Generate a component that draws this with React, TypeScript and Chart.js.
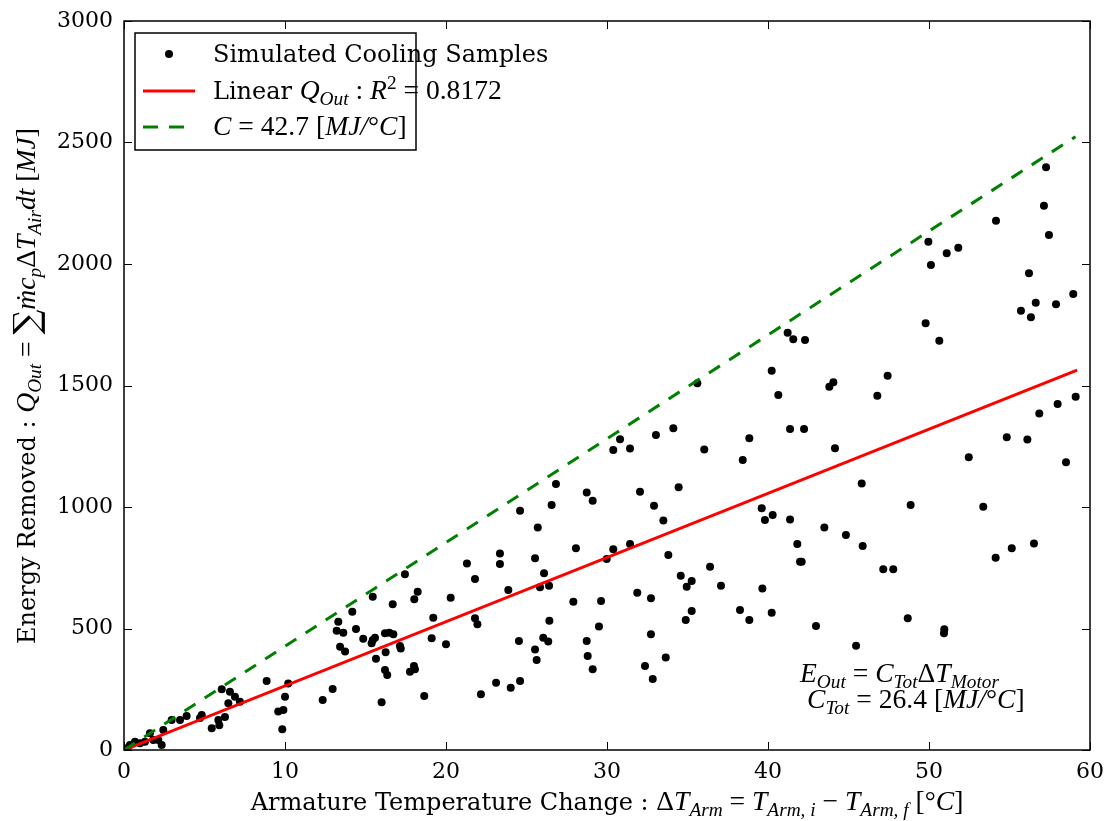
import React, { useEffect, useRef } from "react";
import { Chart, registerables } from "chart.js";
Chart.register(...registerables);

// ---------- data ----------
const sampleX = [
  0.17, 0.37, 0.68, 0.99, 1.3, 1.61, 1.82, 2.13, 2.34, 2.44, 2.96, 3.48, 3.89, 4.83, 4.72, 5.45, 5.92, 5.86, 6.27, 6.07,
  6.58, 6.89, 6.48, 7.2, 8.86, 10.2, 10.0, 9.9, 9.58, 9.83,
  21.3, 17.45, 18.24, 18.03, 20.29, 15.45, 16.69, 14.18, 13.31, 13.21, 13.62, 14.41, 14.86, 15.45, 15.59, 15.38, 16.21,
  16.48, 16.73, 17.14, 17.19, 16.25, 15.65, 13.42, 13.73, 19.21, 19.11, 20.0, 16.21, 16.35, 17.76, 18.01, 18.07, 12.96,
  12.34, 16.0, 18.65,
  35.61, 40.64, 30.81, 30.39, 31.43, 33.04, 34.12, 36.04, 38.84, 38.43, 26.83, 26.56, 24.6, 25.7, 28.74, 29.11, 32.05,
  32.92, 33.5, 34.45, 39.61, 39.81, 40.29, 28.07, 30.39, 29.98, 31.43, 33.81, 36.4, 34.58, 35.26, 34.95, 37.08, 39.65,
  23.35, 23.35, 21.8, 25.53, 26.09, 25.84, 26.4, 23.87, 27.91, 29.63, 31.88, 32.73, 21.8, 21.95, 26.42, 29.5, 35.26,
  34.89, 38.26, 38.84, 40.23, 24.53, 25.53, 25.63, 26.04, 26.35, 28.74, 28.8, 29.11, 32.73, 32.36, 32.84, 33.65, 22.17,
  23.11, 24.02, 24.6,
  57.27, 57.14, 57.45, 54.16, 49.96, 50.12, 51.1, 51.82, 56.21, 55.71, 56.33, 56.63, 57.89, 58.96, 49.79, 50.64, 41.22,
  41.57, 42.3, 40.23, 46.79, 47.43, 43.81, 44.06, 41.37, 42.24, 44.16, 52.47, 54.83, 56.11, 56.85, 57.99, 59.11, 58.51,
  45.82, 41.37, 43.5, 44.84, 45.88, 41.82, 41.99, 42.09, 47.16, 47.78, 48.86, 53.37, 54.14, 55.14, 56.52, 42.98, 45.47,
  48.68, 50.95, 50.93,
];
const sampleY = [
  7, 21, 34, 28, 34, 69, 41, 41, 21, 82, 123, 123, 140, 144, 132, 89, 102, 123, 136, 250,
  240, 219, 192, 199, 284, 274, 219, 165, 158, 85,
  768, 723, 651, 620, 627, 631, 600, 569, 528, 491, 483, 498, 458, 453, 462, 439, 480,
  483, 476, 428, 418, 402, 376, 425, 405, 544, 460, 435, 329, 309, 322, 346, 332, 251,
  206, 196, 222,
  1509, 1461, 1279, 1235, 1241, 1296, 1324, 1237, 1283, 1193, 1095, 1008, 985, 916, 1060, 1026, 1063,
  1005, 944, 1081, 995, 947, 967, 830, 826, 786, 848, 802, 754, 717, 695, 672, 676, 665,
  809, 765, 704, 789, 727, 670, 676, 658, 610, 613, 647, 624, 542, 517, 532, 508, 572,
  535, 576, 535, 565, 449, 414, 370, 462, 446, 449, 387, 332, 476, 346, 292, 381, 229,
  277, 256, 284,
  2398, 2240, 2119, 2178, 2092, 1996, 2044, 2067, 1962, 1808, 1781, 1841, 1834, 1877, 1756, 1684, 1717,
  1690, 1687, 1561, 1458, 1540, 1495, 1513, 1321, 1321, 1242, 1205, 1287, 1278, 1385, 1424, 1454, 1184,
  1097, 949, 916, 885, 840, 848, 775, 775, 744, 744, 1008, 1001, 791, 830, 850, 510, 429,
  542, 497, 480,
];
const linearX = [0, 59.2];
const linearY = [0, 1563];
const capX = [0, 59.1];
const capY = [0, 2524];
const xTickValues = [0, 10, 20, 30, 40, 50, 60];
const yTickValues = [0, 500, 1000, 1500, 2000, 2500, 3000];

// ---------- rich text ----------
type Seg = { t: string; k?: "r" | "i" | "m"; p?: "sub" | "sup"; sc?: number; dy?: number };
const TEXT_FONT = '"DejaVu Serif"';
const MATH_FONT = '"Liberation Serif"';
const MATH_SCALE = 1.15;

function segFont(s: Seg, size: number) {
  let px = size * (s.sc ?? 1) * (s.p ? 0.7 : 1);
  const k = s.k ?? "r";
  if (k === "r") return `${px}px ${TEXT_FONT}`;
  px *= MATH_SCALE;
  if (k === "i") return `italic ${px}px ${MATH_FONT}`;
  return `${px}px ${MATH_FONT}`;
}
function richWidth(ctx: CanvasRenderingContext2D, segs: Seg[], size: number) {
  let w = 0;
  for (const s of segs) {
    ctx.font = segFont(s, size);
    w += ctx.measureText(s.t).width;
  }
  return w;
}
function drawRich(ctx: CanvasRenderingContext2D, segs: Seg[], x: number, y: number, size: number, align: "left" | "center" = "left") {
  let cx = x;
  if (align === "center") cx = x - richWidth(ctx, segs, size) / 2;
  ctx.textBaseline = "alphabetic";
  ctx.textAlign = "left";
  for (const s of segs) {
    ctx.font = segFont(s, size);
    let yy = y + (s.dy ?? 0) * size;
    if (s.p === "sub") yy += 0.25 * size;
    if (s.p === "sup") yy -= 0.4 * size;
    ctx.fillText(s.t, cx, yy);
    cx += ctx.measureText(s.t).width;
  }
}

const legendRow1: Seg[] = [{ t: "Simulated Cooling Samples" }];
const legendRow2: Seg[] = [
  { t: "Linear " }, { t: "Q", k: "i" }, { t: "Out", k: "i", p: "sub" }, { t: " : ", k: "m" },
  { t: "R", k: "i" }, { t: "2", k: "m", p: "sup" }, { t: " = 0.8172", k: "m" },
];
const legendRow3: Seg[] = [
  { t: "C", k: "i" }, { t: " = 42.7 [", k: "m" }, { t: "MJ/", k: "i" }, { t: "°", k: "m" }, { t: "C", k: "i" }, { t: "]", k: "m" },
];
const annot1: Seg[] = [
  { t: "E", k: "i" }, { t: "Out", k: "i", p: "sub" }, { t: " = ", k: "m" }, { t: "C", k: "i" }, { t: "Tot", k: "i", p: "sub" },
  { t: "Δ", k: "m" }, { t: "T", k: "i" }, { t: "Motor", k: "i", p: "sub" },
];
const annot2: Seg[] = [
  { t: "C", k: "i" }, { t: "Tot", k: "i", p: "sub" }, { t: " = 26.4 [", k: "m" }, { t: "MJ/", k: "i" }, { t: "°", k: "m" },
  { t: "C", k: "i" }, { t: "]", k: "m" },
];
const xTitle: Seg[] = [
  { t: "Armature Temperature Change : " }, { t: "Δ", k: "m" }, { t: "T", k: "i" }, { t: "Arm", k: "i", p: "sub" },
  { t: " = ", k: "m" }, { t: "T", k: "i" }, { t: "Arm, i", k: "i", p: "sub" }, { t: " − ", k: "m" }, { t: "T", k: "i" },
  { t: "Arm, f", k: "i", p: "sub" }, { t: " [°", k: "m" }, { t: "C", k: "i" }, { t: "]", k: "m" },
];
const yTitle: Seg[] = [
  { t: "Energy Removed : " }, { t: "Q", k: "i" }, { t: "Out", k: "i", p: "sub" }, { t: " = ", k: "m" },
  { t: "∑", k: "r", sc: 1.45, dy: 0.12 }, { t: "ṁc", k: "i" }, { t: "p", k: "i", p: "sub" }, { t: "Δ", k: "m" },
  { t: "T", k: "i" }, { t: "Air", k: "i", p: "sub" }, { t: "dt", k: "i" }, { t: " [", k: "m" }, { t: "MJ", k: "i" },
  { t: "]", k: "m" },
];

const overlay = {
  id: "overlay",
  afterDraw(chart: any) {
    const ctx: CanvasRenderingContext2D = chart.ctx;
    const a = chart.chartArea;
    const xs = chart.scales.x;
    const ys = chart.scales.y;
    ctx.save();
    ctx.fillStyle = "#000";
    ctx.strokeStyle = "#000";
    // ticks (inward, all sides)
    ctx.lineWidth = 1;
    ctx.beginPath();
    for (const v of xTickValues) {
      const px = Math.round(xs.getPixelForValue(v)) + 0.5;
      ctx.moveTo(px, a.bottom); ctx.lineTo(px, a.bottom - 8);
      ctx.moveTo(px, a.top); ctx.lineTo(px, a.top + 8);
    }
    for (const v of yTickValues) {
      const py = Math.round(ys.getPixelForValue(v)) + 0.5;
      ctx.moveTo(a.left, py); ctx.lineTo(a.left + 8, py);
      ctx.moveTo(a.right, py); ctx.lineTo(a.right - 8, py);
    }
    ctx.stroke();
    // frame
    ctx.lineWidth = 1.5;
    ctx.strokeRect(a.left, a.top, a.right - a.left, a.bottom - a.top);

    // legend
    ctx.fillStyle = "#fff";
    ctx.fillRect(135, 33, 281, 117);
    ctx.lineWidth = 1.5;
    ctx.strokeStyle = "#000";
    ctx.strokeRect(135, 33, 281, 117);
    ctx.fillStyle = "#000";
    ctx.beginPath();
    ctx.arc(169, 54, 4, 0, Math.PI * 2);
    ctx.fill();
    ctx.lineWidth = 3;
    ctx.strokeStyle = "#ff0000";
    ctx.beginPath(); ctx.moveTo(143, 91); ctx.lineTo(195, 91); ctx.stroke();
    ctx.strokeStyle = "#008000";
    ctx.setLineDash([15, 11]);
    ctx.beginPath(); ctx.moveTo(143, 127); ctx.lineTo(195, 127); ctx.stroke();
    ctx.setLineDash([]);
    ctx.fillStyle = "#000";
    drawRich(ctx, legendRow1, 213, 62, 24);
    drawRich(ctx, legendRow2, 213, 99, 24);
    drawRich(ctx, legendRow3, 213, 135, 24);

    // annotation
    drawRich(ctx, annot1, 800, 682, 24);
    drawRich(ctx, annot2, 807, 708, 24);

    // axis titles
    drawRich(ctx, xTitle, (a.left + a.right) / 2, 810, 24, "center");
    ctx.save();
    ctx.translate(35, 386);
    ctx.rotate(-Math.PI / 2);
    drawRich(ctx, yTitle, 0, 0, 24, "center");
    ctx.restore();
    ctx.restore();
  },
};

export default function App() {
  const ref = useRef<HTMLCanvasElement>(null);
  useEffect(() => {
    if (!ref.current) return;
    const tickFont = { family: TEXT_FONT, size: 22 };
    const chart = new Chart(ref.current, {
      type: "scatter",
      data: {
        datasets: [
          {
            label: "Simulated Cooling Samples",
            data: sampleX.map((x, i) => ({ x, y: sampleY[i] })),
            backgroundColor: "#000",
            borderWidth: 0,
            pointRadius: 4,
            order: 3,
          },
          {
            label: "Linear",
            data: linearX.map((x, i) => ({ x, y: linearY[i] })),
            showLine: true,
            borderColor: "#ff0000",
            borderWidth: 3,
            pointRadius: 0,
            order: 2,
          },
          {
            label: "C",
            data: capX.map((x, i) => ({ x, y: capY[i] })),
            showLine: true,
            borderColor: "#008000",
            borderWidth: 3,
            borderDash: [13, 11],
            pointRadius: 0,
            order: 1,
          },
        ] as any,
      },
      options: {
        animation: false,
        responsive: false,
        events: [],
        layout: { padding: { left: 0, right: 15, top: 21, bottom: 0 } },
        plugins: { legend: { display: false }, tooltip: { enabled: false } },
        scales: {
          x: {
            type: "linear",
            min: 0,
            max: 60,
            ticks: { stepSize: 10, font: tickFont, color: "#000", padding: 9, maxRotation: 0, callback: (v: any) => String(v) },
            grid: { display: false, drawTicks: false },
            border: { display: false },
            afterFit: (s: any) => { s.height = 71; s.paddingLeft = 0; s.paddingRight = 0; },
          },
          y: {
            type: "linear",
            min: 0,
            max: 3000,
            ticks: { stepSize: 500, font: tickFont, color: "#000", padding: 11, callback: (v: any) => String(v) },
            grid: { display: false, drawTicks: false },
            border: { display: false },
            afterFit: (s: any) => { s.width = 124; s.paddingTop = 0; s.paddingBottom = 0; },
          },
        },
      },
      plugins: [overlay],
    });
    return () => chart.destroy();
  }, []);
  return (
    <div style={{ position: "fixed", left: 0, top: 0, width: 1105, height: 821, background: "#fff" }}>
      <canvas ref={ref} width={1105} height={821} style={{ width: 1105, height: 821, display: "block" }} />
    </div>
  );
}
